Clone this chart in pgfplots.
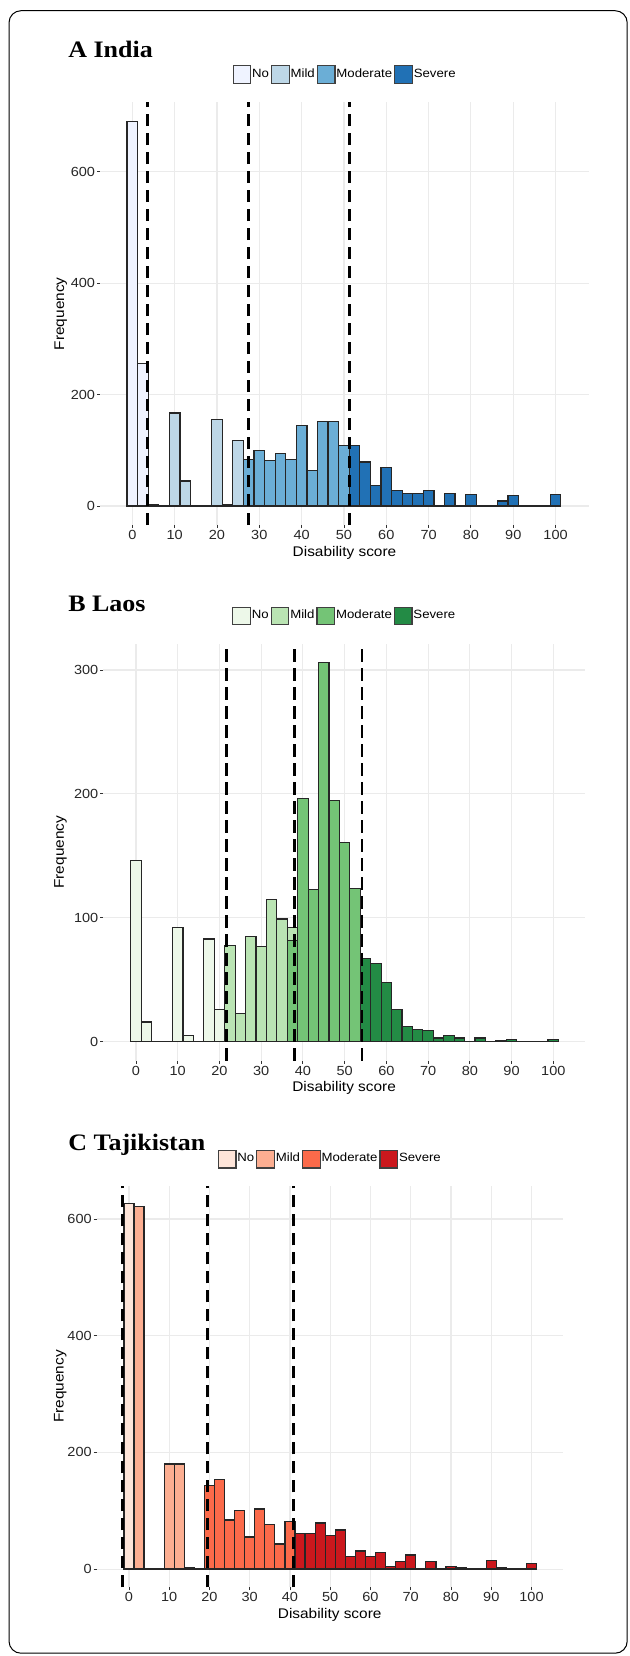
\documentclass[border=0pt]{standalone}
\usepackage{fontspec}
\setmainfont{Liberation Sans}[FakeStretch=1.1]
\newfontfamily\titlefont{Liberation Serif}[FakeStretch=1.1]
\usepackage{pgfplots}
\pgfplotsset{compat=1.18}
\definecolor{bNo}{HTML}{EFF3FF}\definecolor{bMi}{HTML}{BDD7E7}\definecolor{bMo}{HTML}{6BAED6}\definecolor{bSe}{HTML}{2171B5}
\definecolor{gNo}{HTML}{EDF8E9}\definecolor{gMi}{HTML}{BAE4B3}\definecolor{gMo}{HTML}{74C476}\definecolor{gSe}{HTML}{238B45}
\definecolor{rNo}{HTML}{FEE5D9}\definecolor{rMi}{HTML}{FCAE91}\definecolor{rMo}{HTML}{FB6A4A}\definecolor{rSe}{HTML}{CB181D}
\newcommand{\labfont}{\fontsize{7}{8}\selectfont}
\pgfplotsset{
  hist/.style={
    scale only axis,
    anchor=north west,
    ybar, bar width=2.5, bar shift=0pt,
    axis line style={draw=none},
    xtick={0,10,...,100},
    xtick pos=left, ytick pos=left,
    tick align=outside,
    major tick length=1.5pt,
    tick style={black!80, line width=0.45pt},
    grid=major,
    major grid style={color=black!8, line width=0.55pt},
    /pgf/number format/assume math mode=true,
    ticklabel style={font=\fontsize{6.6}{7}\selectfont, text=black!85},
    xticklabel style={inner sep=1pt},
    yticklabel style={inner sep=0.8pt},
    xlabel={Disability score},
    ylabel={Frequency},
    every axis x label/.style={at={(axis description cs:0.5,0)}, anchor=base, yshift=-15.6pt, font=\labfont},
    legend columns=4,
    legend style={draw=none, fill=none, font=\fontsize{6}{7}\selectfont,
      at={(0.5,1.066)}, anchor=center,
      /tikz/every even column/.append style={column sep=0.6pt},
      nodes={inner xsep=0.4pt, inner ysep=0.5pt}},
    legend image code/.code={\draw[#1, draw=black!75, line width=0.6pt] (0pt,-4.4pt) rectangle (8.8pt,4.4pt);},
    every axis plot/.append style={draw=black!85, line width=0.6pt},
  },
  vl/.style={sharp plot, forget plot, draw=black, line width=1.35pt, dash pattern=on 6.3pt off 3.2pt},
}
\begin{document}
\begin{tikzpicture}
\useasboundingbox (0,0) rectangle (314.5pt,-828pt);
\draw[line width=0.5pt, rounded corners=6pt] (4.5pt,-5.35pt) rectangle (313.6pt,-826.6pt);
\node[anchor=base west, inner sep=0pt, font=\titlefont\bfseries\fontsize{11.8}{12}\selectfont] at (34pt,-28.65pt) {A India};
\node[anchor=base west, inner sep=0pt, font=\titlefont\bfseries\fontsize{11.8}{12}\selectfont] at (34pt,-305.5pt) {B Laos};
\node[anchor=base west, inner sep=0pt, font=\titlefont\bfseries\fontsize{11.8}{12}\selectfont] at (34pt,-575pt) {C Tajikistan};

% ---------------- A India
\begin{axis}[hist, at={(50pt,-51.2pt)}, width=244.5pt, height=211.4pt,
  xmin=-7.63, xmax=107.89, ymin=-34.5, ymax=724.5, ytick={0,200,400,600},
  every axis y label/.style={at={(axis description cs:-0.0736,0.5)}, anchor=base, rotate=90, font=\labfont}]
\addplot[fill=bNo] coordinates {(0,690) (2.5,256)};
\addlegendentry{No}
\addplot[fill=bMi] coordinates {(5,3) (7.5,0) (10,167) (12.5,45) (15,0) (17.5,0) (20,155) (22.5,3) (25,117)};
\addlegendentry{Mild}
\addplot[fill=bMo] coordinates {(27.5,83) (30,99) (32.5,82) (35,94) (37.5,84) (40,144) (42.5,64) (45,151) (47.5,152) (50,109)};
\addlegendentry{Moderate}
\addplot[fill=bSe] coordinates {(52.5,109) (55,79) (57.5,37) (60,69) (62.5,28) (65,22) (67.5,22) (70,28) (72.5,0) (75,23) (77.5,0) (80,20) (82.5,0) (85,0) (87.5,9) (90,19) (92.5,0) (95,0) (97.5,0) (100,20)};
\addlegendentry{Severe}
\addplot[vl] coordinates {(3.63,-34.5) (3.63,724.5)};
\addplot[vl] coordinates {(27.5,-34.5) (27.5,724.5)};
\addplot[vl] coordinates {(51.27,-34.5) (51.27,724.5)};
\end{axis}

% ---------------- B Laos
\begin{axis}[hist, at={(51.65pt,-321.8pt)}, width=240.85pt, height=208.55pt,
  xmin=-7.84, xmax=107.6, ymin=-15.3, ymax=321.3, ytick={0,100,200,300},
  every axis y label/.style={at={(axis description cs:-0.0816,0.5)}, anchor=base, rotate=90, font=\labfont}]
\addplot[fill=gNo] coordinates {(0,146) (2.5,16) (5,0) (7.5,0) (10,92) (12.5,5) (15,0) (17.5,83) (20,26)};
\addlegendentry{No}
\addplot[fill=gMi] coordinates {(22.5,78) (25,23) (27.5,85) (30,77) (32.5,115) (35,99) (37.5,92)};
\addlegendentry{Mild}
\addplot[fill=gMo] coordinates {(37.5,82) (40,196) (42.5,123) (45,306) (47.5,195) (50,161) (52.5,124)};
\addlegendentry{Moderate}
\addplot[fill=gSe] coordinates {(55,67) (57.5,63) (60,48) (62.5,26) (65,12) (67.5,10) (70,9) (72.5,3) (75,5) (77.5,3) (80,0) (82.5,3) (85,0) (87.5,1) (90,2) (92.5,0) (95,0) (97.5,0) (100,2)};
\addlegendentry{Severe}
\addplot[vl] coordinates {(21.73,-15.3) (21.73,321.3)};
\addplot[vl] coordinates {(37.94,-15.3) (37.94,321.3)};
\addplot[vl] coordinates {(54.16,-15.3) (54.16,321.3)};
\end{axis}

% ---------------- C Tajikistan
\begin{axis}[hist, at={(48.35pt,-592.8pt)}, width=233pt, height=200.85pt,
  xmin=-8.02, xmax=107.75, ymin=-31.3, ymax=657.3, ytick={0,200,400,600},
  every axis y label/.style={at={(axis description cs:-0.0712,0.5)}, anchor=base, rotate=90, font=\labfont}]
\addplot[fill=rNo] coordinates {(0,626)};
\addlegendentry{No}
\addplot[fill=rMi] coordinates {(2.5,621) (5,0) (7.5,0) (10,180) (12.5,180) (15,3) (17.5,0)};
\addlegendentry{Mild}
\addplot[fill=rMo] coordinates {(20,143) (22.5,154) (25,84) (27.5,100) (30,55) (32.5,103) (35,77) (37.5,43) (40,82)};
\addlegendentry{Moderate}
\addplot[fill=rSe] coordinates {(42.5,61) (45,61) (47.5,79) (50,57) (52.5,67) (55,21) (57.5,31) (60,21) (62.5,28) (65,4) (67.5,13) (70,24) (72.5,0) (75,13) (77.5,0) (80,5) (82.5,3) (85,0) (87.5,0) (90,15) (92.5,3) (95,0) (97.5,0) (100,9)};
\addlegendentry{Severe}
\addplot[vl] coordinates {(-1.57,-31.3) (-1.57,657.3)};
\addplot[vl] coordinates {(19.55,-31.3) (19.55,657.3)};
\addplot[vl] coordinates {(40.82,-31.3) (40.82,657.3)};
\end{axis}
\end{tikzpicture}
\end{document}
